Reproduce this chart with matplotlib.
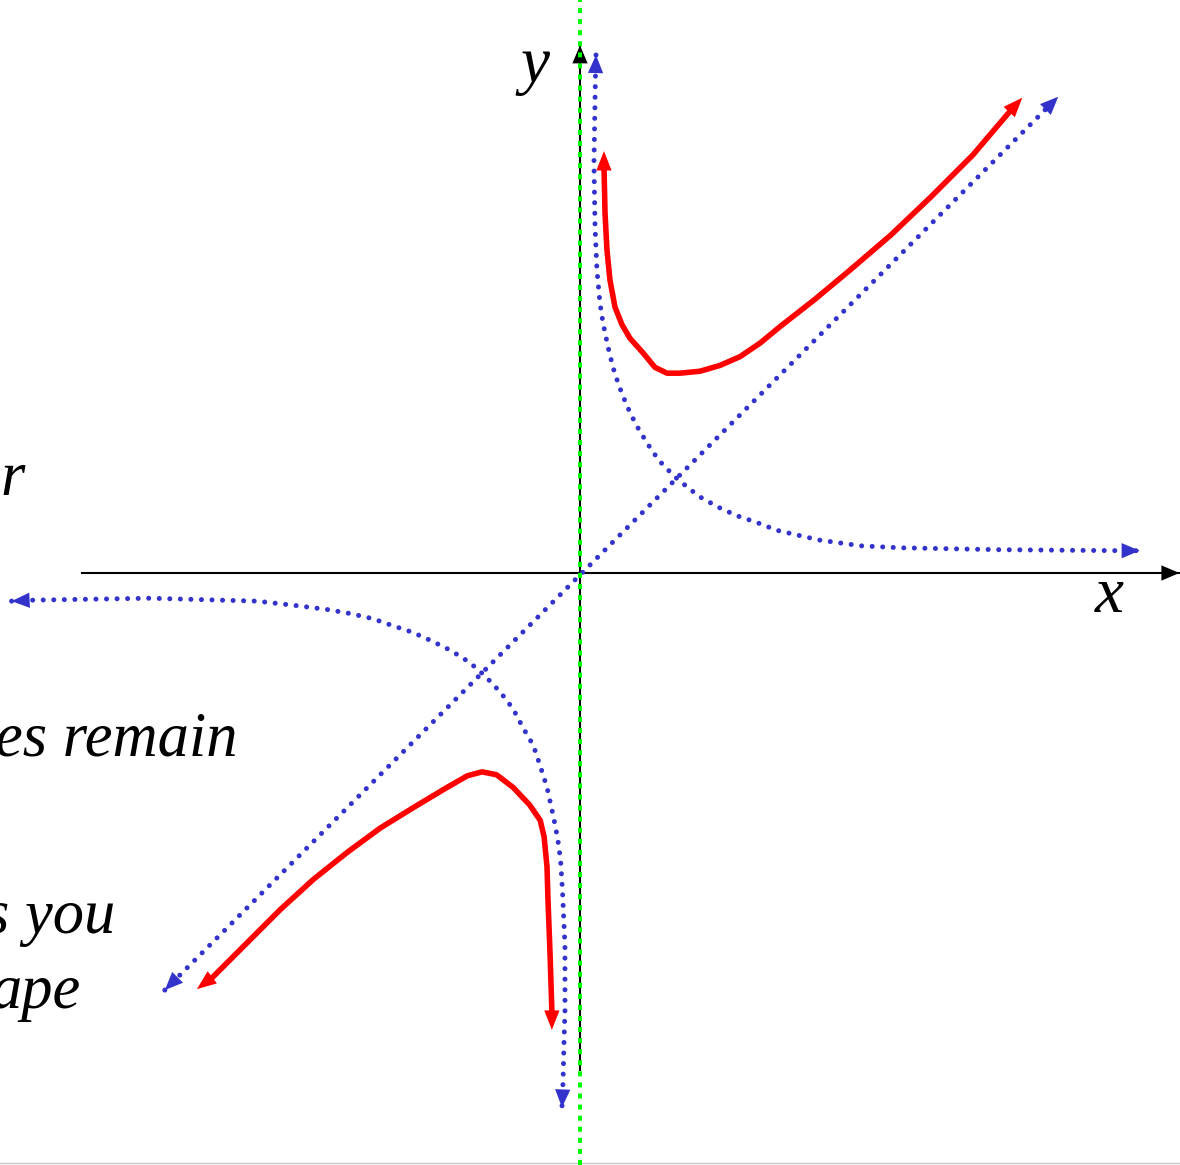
import matplotlib
matplotlib.use("Agg")
import matplotlib.pyplot as plt
from matplotlib.patches import FancyArrowPatch
import numpy as np

# curves (1 unit = 97 px, origin at the axes crossing)
line_x = [-4.28, 4.93]
line_y = [-4.30, 4.91]

hyp_up_x = [0.165, 0.160, 0.155, 0.144, 0.155, 0.175, 0.206, 0.237, 0.289, 0.340, 0.402,
            0.485, 0.577, 0.691, 0.814, 0.969, 1.052, 1.227, 1.423, 1.619, 1.825,
            2.031, 2.247, 2.464, 2.680, 2.897, 3.30, 4.33, 5.60, 5.77]
hyp_up_y = [5.34, 5.15, 4.88, 4.23, 3.57, 3.12, 2.78, 2.58, 2.33, 2.12, 1.93,
            1.72, 1.53, 1.34, 1.16, 1.00, 0.93, 0.79, 0.68, 0.59, 0.52,
            0.44, 0.39, 0.34, 0.31, 0.28, 0.26, 0.24, 0.23, 0.23]

hyp_lo_x = [-5.86, -5.65, -4.43, -3.33, -2.89, -2.58, -2.36, -2.14, -1.94, -1.73,
            -1.53, -1.33, -1.14, -0.98, -0.82, -0.69, -0.59, -0.48, -0.41, -0.34,
            -0.27, -0.23, -0.20, -0.18, -0.155, -0.155, -0.165, -0.175, -0.186]
hyp_lo_y = [-0.29, -0.28, -0.26, -0.29, -0.34, -0.38, -0.42, -0.47, -0.54, -0.61,
            -0.70, -0.80, -0.92, -1.06, -1.23, -1.40, -1.59, -1.78, -1.99, -2.21,
            -2.53, -2.74, -2.96, -3.29, -3.84, -4.51, -4.84, -5.25, -5.51]

sum_up_x = [0.247, 0.247, 0.258, 0.278, 0.309, 0.361, 0.433, 0.515, 0.649, 0.773,
            0.897, 1.031, 1.237, 1.443, 1.649, 1.856, 2.062, 2.42, 2.78, 3.20, 3.61,
            4.05, 4.45, 4.56]
sum_up_y = [4.35, 4.21, 3.71, 3.33, 3.02, 2.74, 2.56, 2.42, 2.27, 2.12,
            2.06, 2.06, 2.08, 2.14, 2.23, 2.37, 2.54, 2.82, 3.12, 3.48, 3.87,
            4.31, 4.78, 4.90]

sum_lo_x = [-3.95, -3.78, -3.43, -3.09, -2.75, -2.40, -2.06, -1.72, -1.37, -1.16,
            -1.01, -0.86, -0.69, -0.52, -0.41, -0.37, -0.34, -0.33, -0.31, -0.29, -0.29]
sum_lo_y = [-4.29, -4.16, -3.81, -3.47, -3.16, -2.88, -2.63, -2.42, -2.21, -2.09,
            -2.05, -2.08, -2.21, -2.39, -2.55, -2.72, -3.03, -3.37, -3.89, -4.51, -4.71]

x_axis = [-5.13, 6.18]
y_axis = [-5.12, 5.44]

texts = ["r", "es remain", "s you", "ape"]
text_x = [-5.72, -3.53, -4.79, -5.15]
text_y = [0.80, -1.88, -3.71, -4.48]

BLUE = "#3333cc"
RED = "#ff0000"
GREEN = "#00ff00"

fig = plt.figure(figsize=(11.8, 11.65), dpi=100)
ax = fig.add_axes([0, 0, 1, 1])
ax.set_xlim(-580 / 97, 600 / 97)
ax.set_ylim(-592 / 97, 573 / 97)
ax.axis("off")


def head(x0, y0, x1, y1, color, hl=10, hw=4.5, z=3):
    a = FancyArrowPatch((x0, y0), (x1, y1),
                        arrowstyle=f"-|>,head_length={hl},head_width={hw}",
                        mutation_scale=1, shrinkA=0, shrinkB=0,
                        color=color, lw=0, zorder=z)
    ax.add_patch(a)


# axes with arrows
ax.plot(x_axis, [0, 0], color="black", lw=1.5, zorder=1)
ax.plot([0, 0], y_axis, color="black", lw=1.5, zorder=1)
head(x_axis[0], 0, x_axis[1], 0, "black", hl=13, hw=5.5, z=1)
head(0, y_axis[0], 0, y_axis[1], "black", hl=13, hw=5.5, z=1)

# dotted blue curves
dot = dict(color=BLUE, lw=3.6, linestyle=(0, (0.01, 2.1)),
           dash_capstyle="round", zorder=2)
bh = dict(hl=13, hw=5.5)
ax.plot(line_x, line_y, **dot)
head(line_x[1], line_y[1], line_x[0], line_y[0], BLUE, **bh)
head(line_x[0], line_y[0], line_x[1], line_y[1], BLUE, **bh)

ax.plot(hyp_up_x, hyp_up_y, **dot)
head(hyp_up_x[1], hyp_up_y[1], hyp_up_x[0], hyp_up_y[0], BLUE, **bh)
head(hyp_up_x[-2], hyp_up_y[-2], hyp_up_x[-1], hyp_up_y[-1], BLUE, **bh)

ax.plot(hyp_lo_x, hyp_lo_y, **dot)
head(hyp_lo_x[1], hyp_lo_y[1], hyp_lo_x[0], hyp_lo_y[0], BLUE, **bh)
head(hyp_lo_x[-2], hyp_lo_y[-2], hyp_lo_x[-1], hyp_lo_y[-1], BLUE, **bh)

# red sum curves
rh = dict(hl=14, hw=5.5)
ax.plot(sum_up_x[1:-1], sum_up_y[1:-1], color=RED, lw=4, zorder=3,
        solid_joinstyle="round")
head(sum_up_x[1], sum_up_y[1], sum_up_x[0], sum_up_y[0], RED, **rh)
head(sum_up_x[-2], sum_up_y[-2], sum_up_x[-1], sum_up_y[-1], RED, **rh)

ax.plot(sum_lo_x[1:-1], sum_lo_y[1:-1], color=RED, lw=4, zorder=3,
        solid_joinstyle="round")
head(sum_lo_x[1], sum_lo_y[1], sum_lo_x[0], sum_lo_y[0], RED, **rh)
head(sum_lo_x[-2], sum_lo_y[-2], sum_lo_x[-1], sum_lo_y[-1], RED, **rh)

# green asymptote
ax.axvline(0, color=GREEN, lw=2.9, linestyle=(0, (1.25, 1.5)), zorder=4)

# slide bottom edge
ax.axhline(-590 / 97, color="#c8c8c8", lw=1, zorder=0)

font = dict(family=["Liberation Serif", "DejaVu Serif"], style="italic", color="black")
ax.text(-0.46, 5.06, "y", ha="center", va="baseline", fontsize=47, **font)
ax.text(5.46, -0.40, "x", ha="center", va="baseline", fontsize=47, **font)
for s, tx, ty in zip(texts, text_x, text_y):
    ax.text(tx, ty, s, ha="right", va="baseline", fontsize=45, **font)

fig.savefig("out.png", dpi=100)
